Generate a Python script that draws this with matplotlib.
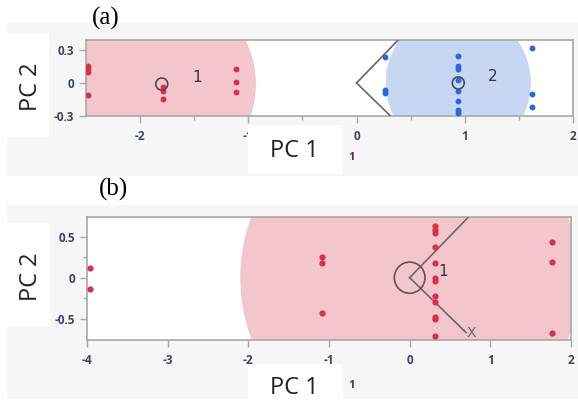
import matplotlib
matplotlib.use('Agg')
import matplotlib.pyplot as plt
from matplotlib.patches import Circle, Rectangle

# panel (a): two classes
a1_x = [-2.48, -2.48, -2.48, -2.48, -1.79, -1.79, -1.79, -1.11, -1.11, -1.11]
a1_y = [0.155, 0.127, 0.10, -0.11, -0.036, -0.07, -0.145, 0.127, 0.01, -0.08]
a2_x = [0.26, 0.26, 0.26, 0.94, 0.94, 0.94, 0.94, 0.94, 0.94, 0.94, 0.94, 1.62, 1.62, 1.62]
a2_y = [0.24, -0.064, -0.09, 0.245, 0.155, 0.127, 0.027, -0.073, -0.164, -0.245, -0.27, 0.318, -0.10, -0.218]
a_centers = [(-1.80, -0.01), (0.94, 0.0)]
a_radius = [0.87, 0.67]
a_labels = ['1', '2']
a_label_pos = [(-1.47, 0.05), (1.26, 0.06)]

# panel (b): one class
b_x = [-3.96, -3.96, -1.09, -1.09, -1.09,
       0.32, 0.32, 0.32, 0.32, 0.32, 0.32, 0.32, 0.32, 0.32, 0.32, 0.32, 0.32,
       1.76, 1.76, 1.76]
b_y = [0.12, -0.134, 0.256, 0.18, -0.43,
       0.63, 0.585, 0.54, 0.37, 0.18, 0.0, -0.04, -0.22, -0.30, -0.48, -0.50, -0.71,
       0.43, 0.195, -0.68]
b_center = (0.0, 0.0)
b_radius = 2.1

# biplot rays (X, Y)
ray_x = [0.70, 0.72]
ray_y = [-0.67, 0.73]
ray_names = ['X', 'Y']

red_fill = '#f2c6cc'
red_pt = '#d8314a'
blue_fill = '#c6d6f3'
blue_pt = '#2b67e0'
tick_col = '#3b4660'
spine_col = '#a8a8a8'

fig = plt.figure(figsize=(5.78, 4.01), dpi=100)
W, H = 578.0, 401.0


def box(x0, y0, x1, y1, color, z):
    # rectangle in pixel coords (top-left origin)
    fig.patches.append(Rectangle((x0 / W, 1 - y1 / H), (x1 - x0) / W, (y1 - y0) / H,
                                 transform=fig.transFigure, facecolor=color,
                                 edgecolor='none', zorder=z))


# gray panels and white label boxes
box(7, 23, 578, 176, '#f6f6f6', -5)
box(7, 205, 578, 399, '#f6f6f6', -5)
box(7, 33, 49, 137, 'white', -4)
box(7, 223, 50, 327, 'white', -4)
box(248, 125, 343, 174, 'white', 5)
box(248, 364, 343, 401, 'white', 5)


def style(ax):
    ax.set_facecolor('white')
    for s in ax.spines.values():
        s.set_color(spine_col)
        s.set_linewidth(1.2)
    ax.tick_params(which='both', color=spine_col, labelcolor=tick_col,
                   labelsize=8.5, direction='out')
    ax.tick_params(which='major', length=5, width=1)
    ax.tick_params(which='minor', length=3, width=1)
    ax.tick_params(axis='x', pad=5)
    for lab in ax.get_xticklabels() + ax.get_yticklabels():
        lab.set_fontfamily('Open Sans')
        lab.set_fontweight('bold')


def rays(ax, names=True):
    for rx, ry, nm in zip(ray_x, ray_y, ray_names):
        ax.plot([0, rx], [0, ry], color='#6e6468', lw=1.2, zorder=3)
        if names and ry < 0:
            ax.text(rx, ry, nm, fontsize=10, color='#6e6468', ha='left', va='center',
                    clip_on=True, zorder=3)


# ---- (a)
ax1 = fig.add_axes([86 / W, 1 - 116 / H, (573 - 86) / W, (116 - 40) / H])
ax1.set_xlim(-2.5, 2)
ax1.set_ylim(-0.3, 0.39)
ax1.add_patch(Circle(a_centers[0], a_radius[0], facecolor=red_fill, edgecolor='none', zorder=1))
ax1.add_patch(Circle(a_centers[1], a_radius[1], facecolor=blue_fill, edgecolor='none', zorder=1))
rays(ax1, names=False)
ax1.scatter(a1_x, a1_y, s=18, color=red_pt, zorder=4, linewidths=0)
ax1.scatter(a2_x, a2_y, s=18, color=blue_pt, zorder=4, linewidths=0)
for c in a_centers:
    ax1.add_patch(Circle(c, 0.055, facecolor='none', edgecolor='#4a4a55', lw=1.2, zorder=5))
for lab, (lx, ly) in zip(a_labels, a_label_pos):
    ax1.text(lx, ly, lab, fontsize=11, color='#3a3050', ha='center', va='center', zorder=5)
ax1.set_xticks([-2, -1, 0, 1, 2])
ax1.set_xticklabels(['-2', '-1', '0', '1', '2'])
ax1.set_xticks([-1.5, -0.5, 0.5, 1.5], minor=True)
ax1.set_yticks([-0.3, 0, 0.3])
ax1.set_yticklabels(['-0.3', '0', '0.3'])
style(ax1)

# ---- (b)
ax2 = fig.add_axes([87 / W, 1 - 340 / H, (571 - 87) / W, (340 - 217) / H])
ax2.set_xlim(-4, 2)
ax2.set_ylim(-0.76, 0.74)
ax2.add_patch(Circle(b_center, b_radius, facecolor=red_fill, edgecolor='none', zorder=1))
rays(ax2)
ax2.scatter(b_x, b_y, s=20, color=red_pt, zorder=4, linewidths=0)
ax2.add_patch(Circle(b_center, 0.19, facecolor='none', edgecolor='#6a5055', lw=1.2, zorder=5))
ax2.text(0.41, 0.07, '1', fontsize=11, color='#3a3050', ha='center', va='center', zorder=5)
ax2.set_xticks([-4, -3, -2, -1, 0, 1, 2])
ax2.set_xticklabels(['-4', '-3', '-2', '-1', '0', '1', '2'])
ax2.set_yticks([-0.5, 0, 0.5])
ax2.set_yticklabels(['-0.5', '0', '0.5'])
ax2.set_yticks([-0.25, 0.25], minor=True)
style(ax2)

# axis titles and panel labels
for yc in [87, 277]:
    fig.text(31 / W, 1 - yc / H, 'PC 2', rotation=90, fontsize=17, family='Open Sans',
             color='#222222', ha='center', va='center')
for yc, ys in [(151, 158), (388, 385)]:
    fig.text(294 / W, 1 - yc / H, 'PC 1', fontsize=17, family='Open Sans',
             color='#222222', ha='center', va='center', zorder=6)
    fig.text(352 / W, 1 - ys / H, '1', fontsize=8, family='Open Sans', weight='bold',
             color='#5a2a70', ha='center', va='center', zorder=6)
fig.text(106 / W, 1 - 18 / H, '(a)', fontsize=18, family='Liberation Serif',
         color='black', ha='center', va='center')
fig.text(114 / W, 1 - 189 / H, '(b)', fontsize=18, family='Liberation Serif',
         color='black', ha='center', va='center')

fig.savefig('out.png', dpi=100, facecolor='white')
